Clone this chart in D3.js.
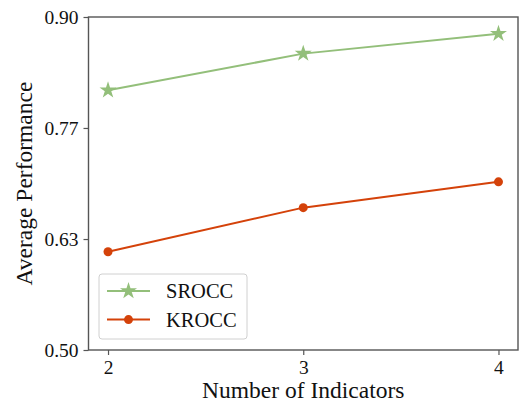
<!DOCTYPE html>
<html>
<head>
  <script src="https://cdn.jsdelivr.net/npm/d3@7"></script>
  <style>
    body { margin: 0; background: #fff; }
    text { font-family: "Liberation Serif", "Times New Roman", serif; fill: #111; }
  </style>
</head>
<body>
  <svg width="519" height="406" id="mainsvg"></svg>
  <script>
    // data
    const indicators = [2, 3, 4];
    const srocc = [0.812, 0.856, 0.880];
    const krocc = [0.618, 0.671, 0.702];
    const yTicks = [0.50, 0.6333, 0.7667, 0.90];
    const seriesNames = ['SROCC', 'KROCC'];

    const svg = d3.select('svg');
    const margin = {top: 17, right: 1, bottom: 56, left: 88.5};
    const width = 519, height = 406;
    const innerWidth = width - margin.left - margin.right;
    const innerHeight = height - margin.top - margin.bottom;
    const g = svg.append('g').attr('transform', `translate(${margin.left}, ${margin.top})`);

    const xScale = d3.scaleLinear().domain([1.9, 4.1]).range([0, innerWidth]);
    const yScale = d3.scaleLinear().domain([0.5, 0.9]).range([innerHeight, 0]);

    const green = '#93bf7a', red = '#d4420a', axisColor = '#555';

    // frame
    g.append('rect').attr('width', innerWidth).attr('height', innerHeight)
      .attr('fill', 'none').attr('stroke', axisColor).attr('stroke-width', 1.4);

    const xAxis = d3.axisBottom(xScale).tickValues(indicators).tickFormat(d3.format('d')).tickSize(5).tickPadding(5);
    const yAxis = d3.axisLeft(yScale).tickValues(yTicks).tickFormat(d3.format('.2f')).tickSize(5).tickPadding(5);
    const xg = g.append('g').attr('transform', `translate(0, ${innerHeight})`).call(xAxis);
    const yg = g.append('g').call(yAxis);
    [xg, yg].forEach(a => {
      a.select('.domain').remove();
      a.selectAll('.tick line').attr('stroke', axisColor).attr('stroke-width', 1.2);
      a.selectAll('.tick text').attr('font-size', '19.5px').attr('fill', '#111');
    });

    // axis titles
    svg.append('text').text('Number of Indicators')
      .attr('x', margin.left + innerWidth / 2).attr('y', 398)
      .attr('text-anchor', 'middle').attr('font-size', '23.5px');
    svg.append('text').text('Average Performance')
      .attr('transform', `translate(32, ${margin.top + innerHeight / 2}) rotate(-90)`)
      .attr('text-anchor', 'middle').attr('font-size', '23.5px');

    const line = d3.line().x((d, i) => xScale(indicators[i])).y(d => yScale(d));
    const star = d3.symbol().type(d3.symbolStar).size(90);

    g.append('path').datum(srocc).attr('d', line).attr('fill', 'none').attr('stroke', green).attr('stroke-width', 2);
    g.selectAll('.sm').data(srocc).join('path').attr('class', 'sm')
      .attr('d', star).attr('fill', green)
      .attr('transform', (d, i) => `translate(${xScale(indicators[i])}, ${yScale(d)})`);

    g.append('path').datum(krocc).attr('d', line).attr('fill', 'none').attr('stroke', red).attr('stroke-width', 2);
    g.selectAll('.km').data(krocc).join('circle').attr('class', 'km')
      .attr('cx', (d, i) => xScale(indicators[i])).attr('cy', d => yScale(d)).attr('r', 4.5).attr('fill', red);

    // legend
    const leg = svg.append('g').attr('transform', 'translate(99, 274)');
    leg.append('rect').attr('width', 148).attr('height', 65).attr('rx', 3)
      .attr('fill', 'rgba(255,255,255,0.8)').attr('stroke', '#d0d0d0').attr('stroke-width', 1);
    const colors = [green, red];
    seriesNames.forEach((name, i) => {
      const y = 17 + i * 28.6;
      leg.append('line').attr('x1', 8).attr('x2', 51).attr('y1', y).attr('y2', y)
        .attr('stroke', colors[i]).attr('stroke-width', 2);
      if (i === 0) {
        leg.append('path').attr('d', star).attr('fill', green).attr('transform', `translate(29.5, ${y})`);
      } else {
        leg.append('circle').attr('cx', 29.5).attr('cy', y).attr('r', 4.5).attr('fill', red);
      }
      leg.append('text').text(name).attr('x', 67).attr('y', y + 7).attr('font-size', '20.5px');
    });
  </script>
</body>
</html>
